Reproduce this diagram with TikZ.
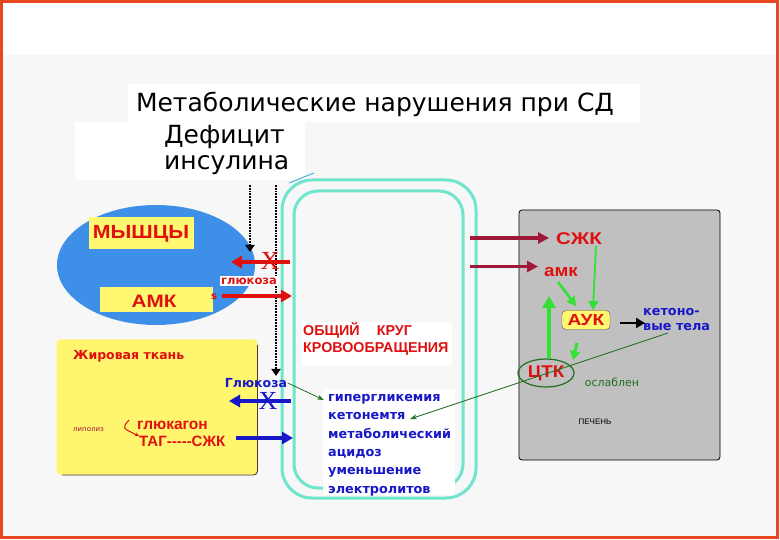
\documentclass[tikz,border=0pt]{standalone}
\usepackage{fontspec}
\setmainfont{DejaVu Sans}
\newfontfamily\lib{Liberation Sans}
\newfontfamily\libserif{Liberation Serif}
\usetikzlibrary{arrows.meta,shapes.geometric}
\definecolor{framecol}{HTML}{E8461E}
\definecolor{bgcol}{HTML}{F7F7F7}
\definecolor{musblue}{HTML}{3D8FE8}
\definecolor{ylw}{HTML}{FFF870}
\definecolor{fatylw}{HTML}{FFF56E}
\definecolor{redtxt}{HTML}{E01010}
\definecolor{aqua}{HTML}{6FE6CC}
\definecolor{livergray}{HTML}{C0C0C0}
\definecolor{darkred}{HTML}{A01838}
\definecolor{bluetxt}{HTML}{1818C8}
\definecolor{grn}{HTML}{33E033}
\definecolor{dgrn}{HTML}{207020}
\tikzset{
  redlbl/.style={text=redtxt, font=\bfseries},
  ybox/.style={fill=ylw, inner sep=0pt},
  redarrow/.style={draw=redtxt, line width=3.5pt, -{Triangle[length=11pt,width=12pt]}},
  bluearrow/.style={draw=bluetxt, line width=3.5pt, -{Triangle[length=11pt,width=12pt]}},
  darkarrow/.style={draw=darkred, line width=3.2pt, -{Triangle[length=11pt,width=11pt]}},
  dotarrow/.style={draw=black, line width=1.8pt, densely dotted, -{Triangle[length=7pt,width=9pt]}},
  grnarrow/.style={draw=grn, line width=2pt, -{Triangle[length=9pt,width=10pt]}},
  thinlink/.style={draw=dgrn, line width=0.8pt, -{Stealth[length=7pt,width=5pt]}},
  xmark/.style={font=\libserif\fontsize{26}{26}\selectfont, inner sep=0pt},
  circ/.style={draw=aqua, line width=3pt},
}
\begin{document}
\begin{tikzpicture}[x=1pt,y=-1pt]
\useasboundingbox (0,0) rectangle (780,540);
% background and frame
\fill[bgcol] (0,0) rectangle (780,540);
\fill[white] (3,3) rectangle (777,55);
\fill[white] (128,84) rectangle (640,122);
\fill[white] (75,122) rectangle (305,180);
\draw[framecol, line width=3pt] (1.5,1.5) rectangle (777,537.5);

% title
\node[font=\fontsize{25}{25}\selectfont] (title) at (375,104) {Метаболические нарушения при СД};
\node[font=\fontsize{25}{26}\selectfont, align=left, anchor=north west, inner sep=0pt] (deficit) at (164,125) {Дефицит\\инсулина};

% circulation
\draw[circ, rounded corners=30pt] (282,180) rectangle (476,498);
\draw[circ, rounded corners=24pt] (294,191) rectangle (463,488);
\coordinate (defend) at (289,183);
\coordinate (circtop) at (314,173);
\draw[draw=musblue!70!aqua, line width=1pt] (defend) -- (circtop);

% muscles
\node[ellipse, fill=musblue, minimum width=198pt, minimum height=120pt, inner sep=0pt] (mus) at (156,265) {};
\node[ybox, minimum width=105pt, minimum height=32pt] (myshcy) at (141,233) {};
\node[redlbl, font=\lib\bfseries\fontsize{19}{19}\selectfont, xscale=1.12] (myshcytxt) at (141,234) {МЫШЦЫ};
\node[ybox, minimum width=113pt, minimum height=25pt] (amkbox) at (156,300) {};
\node[redlbl, font=\lib\bfseries\fontsize{18}{18}\selectfont, xscale=1.15] (amktxt) at (154,301) {АМК};
\node[text=redtxt, font=\bfseries\fontsize{10}{10}\selectfont, inner sep=0pt] (s) at (214,297) {s};

% dotted insulin arrows
\coordinate (d1s) at (250,185);
\coordinate (d1e) at (250,252);
\coordinate (d2s) at (276,185);
\coordinate (d2e) at (276,376);
\draw[dotarrow] (d1s) -- (d1e);
\draw[dotarrow] (d2s) -- (d2e);

% glucose to muscles
\coordinate (g1s) at (290,262);
\coordinate (g1e) at (231,262);
\draw[redarrow] (g1s) -- (g1e);
\node[xmark, text=redtxt] (x1) at (270,261) {X};
\node[fill=white, text=redtxt, font=\bfseries\fontsize{11.5}{11.5}\selectfont, inner sep=1.5pt] (gluk) at (249,281) {глюкоза};
\coordinate (a1s) at (222,296);
\coordinate (a1e) at (292,296);
\draw[redarrow] (a1s) -- (a1e);

% fat tissue
\node[fill=fatylw, rounded corners=4pt, minimum width=201pt, minimum height=135pt, inner sep=0pt] (fat) at (157,407) {};
\draw[draw=black!55!brown, line width=0.9pt, rounded corners=4pt] (62,475) -- (257.5,475) -- (257.5,345);
\node[redlbl, font=\bfseries\fontsize{12.5}{12.5}\selectfont, anchor=west, inner sep=0pt] (fattitle) at (73,356) {Жировая ткань};
\node[text=darkred, font=\fontsize{7}{7}\selectfont, anchor=west, inner sep=0pt] (lipoliz) at (73,430) {липолиз};
\node[redlbl, font=\lib\bfseries\fontsize{15.5}{15.5}\selectfont, anchor=west, inner sep=0pt] (glukagon) at (137,425) {глюкагон};
\node[redlbl, font=\lib\bfseries\fontsize{15}{15}\selectfont, anchor=west, inner sep=0pt] (tag) at (139,441) {ТАГ-----СЖК};
\coordinate (cs) at (129,420);
\coordinate (ce) at (139,436);
\draw[draw=redtxt, line width=1pt, -{Stealth[length=4pt,width=4pt]}] (cs) .. controls (122,428) .. (ce);

% glucose to fat
\node[text=bluetxt, font=\bfseries\fontsize{12.5}{12.5}\selectfont, inner sep=0.5pt] (glukB) at (256,383) {Глюкоза};
\coordinate (b1s) at (291,401);
\coordinate (b1e) at (229,401);
\draw[bluearrow] (b1s) -- (b1e);
\node[xmark, text=bluetxt] (x2) at (268,401) {X};
\coordinate (b2s) at (236,438);
\coordinate (b2e) at (293,438);
\draw[bluearrow, line width=4.5pt] (b2s) -- (b2e);

% circulation texts
\node[fill=white, minimum width=150pt, minimum height=44pt] (krugbg) at (377,344) {};
\node[redlbl, font=\lib\bfseries\fontsize{14.3}{17}\selectfont, align=left, anchor=west, inner sep=0pt] (krug) at (303,339) {ОБЩИЙ\hspace{1.2em}КРУГ\\КРОВООБРАЩЕНИЯ};
\node[fill=white, minimum width=132pt, minimum height=105pt] (listbg) at (389,442) {};
\node[text=bluetxt, font=\bfseries\fontsize{12.8}{18.4}\selectfont, align=left, anchor=north west, inner sep=0pt] (list) at (328,394) {гипергликемия\\кетонемтя\\метаболический\\ацидоз\\уменьшение\\электролитов};
\coordinate (hyper) at (324,400);
\coordinate (keton) at (410,419);
\draw[thinlink] (glukB.east) -- (hyper);

% liver
\node[draw=black, fill=livergray, rounded corners=3pt, minimum width=201pt, minimum height=250pt, inner sep=0pt, line width=0.8pt] (liver) at (619.5,335) {};
\node[redlbl, font=\lib\bfseries\fontsize{17}{17}\selectfont, xscale=1.2] (szhk) at (579,239) {СЖК};
\node[redlbl, font=\lib\bfseries\fontsize{17}{17}\selectfont, xscale=1.1] (amk2) at (561,272) {амк};
\node[fill=ylw, draw=black!70, rounded corners=4pt, minimum width=48pt, minimum height=19pt, inner sep=0pt] (auk) at (586,320) {};
\node[redlbl, font=\lib\bfseries\fontsize{16}{16}\selectfont, xscale=1.2] (auktxt) at (586,320) {АУК};
\node[text=bluetxt, font=\bfseries\fontsize{12.8}{15}\selectfont, align=left, anchor=north west, inner sep=0pt] (ketbody) at (643,308) {кетоно-\\вые тела};
\node[ellipse, draw=dgrn, line width=1.2pt, minimum width=56pt, minimum height=28pt, inner sep=0pt] (ctk) at (546,373) {};
\node[redlbl, font=\lib\bfseries\fontsize{17}{17}\selectfont, xscale=1.1] (ctktxt) at (546,373) {ЦТК};
\node[text=dgrn, font=\fontsize{11}{11}\selectfont, inner sep=0pt] (oslab) at (612,382) {ослаблен};
\node[text=black, font=\lib\fontsize{8}{8}\selectfont, inner sep=0pt] (pechen) at (595,422) {ПЕЧЕНЬ};

\coordinate (r1s) at (470,238);
\coordinate (r1e) at (549,238);
\coordinate (r2s) at (470,266.5);
\coordinate (r2e) at (538,266.5);
\draw[darkarrow] (r1s) -- (r1e);
\draw[darkarrow] (r2s) -- (r2e);
\coordinate (k1) at (620,323);
\coordinate (k2) at (645,323);
\draw[draw=black, line width=2.5pt, -{Triangle[length=9pt,width=10pt]}] (k1) -- (k2);
\coordinate (g2s) at (596,246);
\coordinate (g2e) at (593,310);
\draw[grnarrow, line width=1.8pt] (g2s) -- (g2e);
\coordinate (g3s) at (558,282);
\coordinate (g3e) at (576,306);
\draw[grnarrow, line width=2.5pt] (g3s) -- (g3e);
\coordinate (g4s) at (549,358);
\coordinate (g4e) at (549,296);
\draw[grnarrow, line width=4pt, -{Triangle[length=12pt,width=13pt]}] (g4s) -- (g4e);
\coordinate (g5s) at (577,343);
\coordinate (g5e) at (573,360);
\draw[grnarrow, line width=3pt] (g5s) -- (g5e);
\coordinate (ketstart) at (668,333);
\draw[thinlink] (ketstart) -- (keton);
\end{tikzpicture}
\end{document}
